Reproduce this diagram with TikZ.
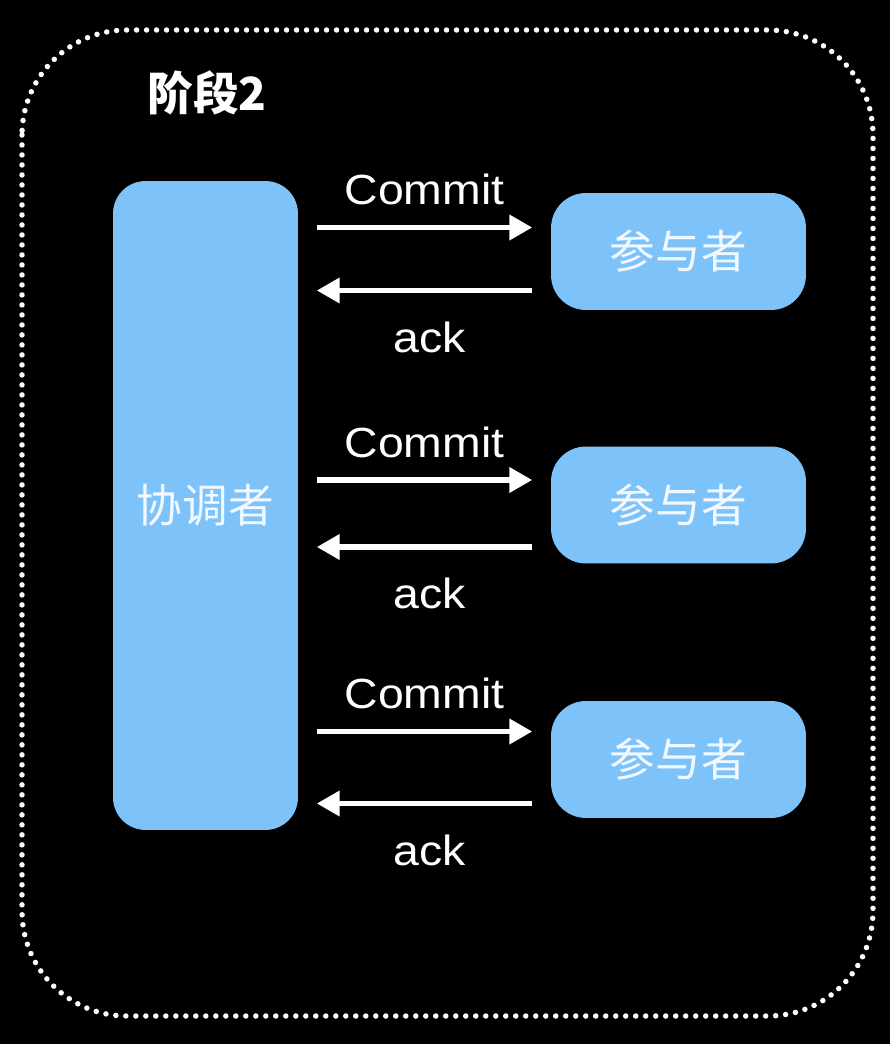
\documentclass[tikz,border=0pt]{standalone}
\usepackage{fontspec}
\setmainfont{Liberation Sans}[FakeStretch=1.1]
\newfontfamily\cjk{Noto Sans CJK SC}
\usepackage{xcolor}
\usetikzlibrary{arrows.meta, positioning, calc}
\definecolor{boxblue}{HTML}{7DC2F9}
\definecolor{boxtext}{HTML}{F2F8FF}

\begin{document}
\begin{tikzpicture}[x=0.02cm, y=-0.02cm,
  box/.style={fill=boxblue, draw=none, inner sep=0pt, text=boxtext, font=\cjk\fontsize{26}{30}\selectfont},
  msg/.style={draw=white, line width=2.9pt, shorten <=0.37cm, shorten >=0.37cm, -{Triangle[length=13pt,width=14pt]}},
  lbl/.style={text=white, font=\fontsize{24}{28}\selectfont, inner sep=0pt, anchor=base}]
  % canvas 890 x 1044 px, 1px = 0.02cm, y grows downward
  \fill[black] (0,0) rectangle (890,1044);
  \useasboundingbox (0,0) rectangle (890,1044);
  % dotted frame
  \draw[white, line width=0.11cm, line cap=round, dash pattern=on 0pt off 0.2cm, rounded corners=2.1cm] (22,30) rectangle (873,1016);
  % title
  \node[text=white, font=\cjk\bfseries\fontsize{26}{30}\selectfont, anchor=west, inner sep=0pt] (title) at (147,93) {阶段2};
  % coordinator
  \node[box, rounded corners=0.65cm, minimum width=3.7cm, minimum height=12.98cm] (coord) at (205.5,505.5) {协调者};
  % participants
  \node[box, rounded corners=0.7cm, minimum width=5.1cm, minimum height=2.34cm] (part1) at (678.5,251.5) {参与者};
  \node[box, rounded corners=0.7cm, minimum width=5.1cm, minimum height=2.34cm] (part2) at (678.5,505) {参与者};
  \node[box, rounded corners=0.7cm, minimum width=5.1cm, minimum height=2.34cm] (part3) at (678.5,759.5) {参与者};
  % arrow levels
  \coordinate (commit1) at ($(part1.west)+(0,-24)$);
  \coordinate (ack1) at ($(part1.west)+(0,39)$);
  \coordinate (commit2) at ($(part2.west)+(0,-25)$);
  \coordinate (ack2) at ($(part2.west)+(0,42)$);
  \coordinate (commit3) at ($(part3.west)+(0,-28)$);
  \coordinate (ack3) at ($(part3.west)+(0,44)$);
  % row 1
  \draw[msg] (coord.east |- commit1) -- (commit1) node[lbl, midway, yshift=0.46cm] (lcommit1) {Commit};
  \draw[msg] (ack1) -- (coord.east |- ack1) node[lbl, midway, yshift=-1.24cm, xshift=0.1cm] (lack1) {ack};
  % row 2
  \draw[msg] (coord.east |- commit2) -- (commit2) node[lbl, midway, yshift=0.46cm] (lcommit2) {Commit};
  \draw[msg] (ack2) -- (coord.east |- ack2) node[lbl, midway, yshift=-1.24cm, xshift=0.1cm] (lack2) {ack};
  % row 3
  \draw[msg] (coord.east |- commit3) -- (commit3) node[lbl, midway, yshift=0.46cm] (lcommit3) {Commit};
  \draw[msg] (ack3) -- (coord.east |- ack3) node[lbl, midway, yshift=-1.24cm, xshift=0.1cm] (lack3) {ack};
\end{tikzpicture}
\end{document}
